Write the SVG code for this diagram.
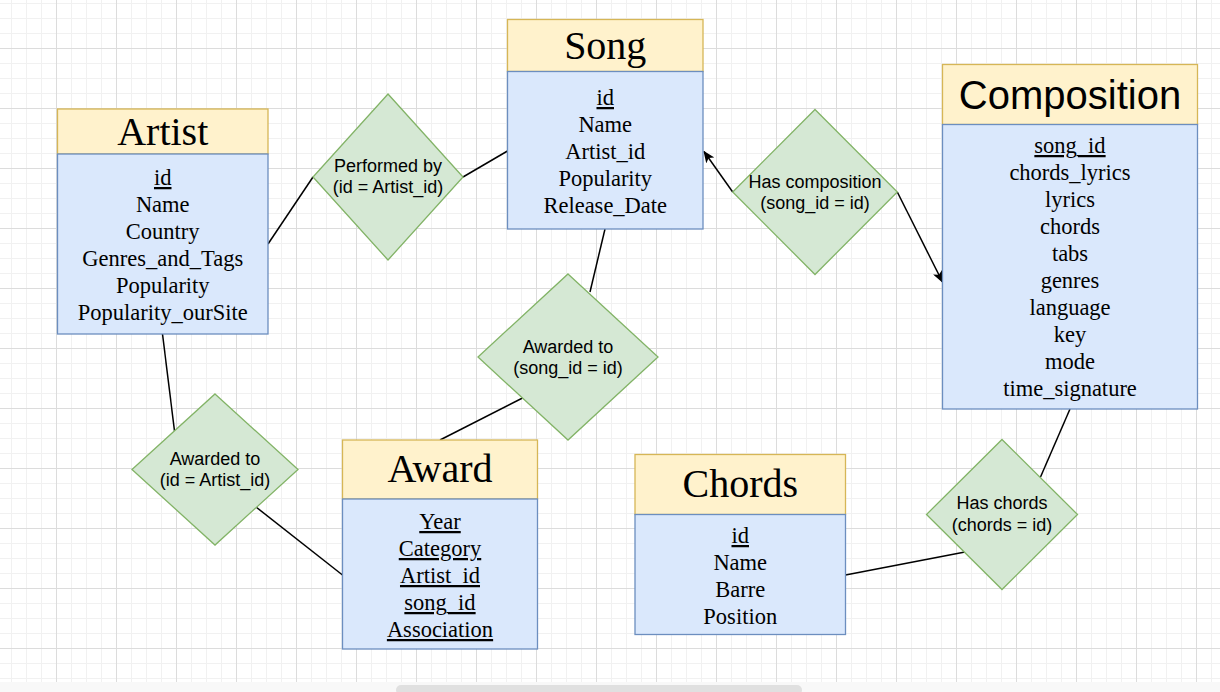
<svg xmlns="http://www.w3.org/2000/svg" width="1220" height="692" viewBox="0 0 1220 692">
<defs>
<pattern id="grid" x="56" y="48" width="60" height="60" patternUnits="userSpaceOnUse">
<rect width="60" height="60" fill="#ffffff"/>
<rect x="15" y="0" width="1" height="60" fill="#f1f1f1"/>
<rect x="30" y="0" width="1" height="60" fill="#f1f1f1"/>
<rect x="45" y="0" width="1" height="60" fill="#f1f1f1"/>
<rect x="0" y="15" width="60" height="1" fill="#f1f1f1"/>
<rect x="0" y="30" width="60" height="1" fill="#f1f1f1"/>
<rect x="0" y="45" width="60" height="1" fill="#f1f1f1"/>
<rect x="0" y="0" width="1" height="60" fill="#dcdcdc"/>
<rect x="0" y="0" width="60" height="1" fill="#dcdcdc"/>
</pattern>
<marker id="arrow" viewBox="0 0 12 10" refX="11" refY="5" markerWidth="12" markerHeight="10" markerUnits="userSpaceOnUse" orient="auto">
<path d="M0,0 L12,5 L0,10 L3,5 Z" fill="#000000"/>
</marker>
<style>
.hd{fill:#fff2cc;stroke:#d6b656;stroke-width:1.3}
.bd{fill:#dae8fc;stroke:#6c8ebf;stroke-width:1.3}
.dm{fill:#d5e8d4;stroke:#82b366;stroke-width:1.3}
.ts{font-family:"Liberation Serif","Times New Roman",serif;font-size:40px;fill:#000;text-anchor:middle}
.tsa{font-family:"Liberation Sans",Arial,sans-serif;font-size:40px;fill:#000;text-anchor:middle}
.at{font-family:"Liberation Serif","Times New Roman",serif;font-size:22.5px;fill:#000;text-anchor:middle}
.u{text-decoration:underline}
.rl{font-family:"Liberation Sans",Arial,sans-serif;font-size:18px;fill:#000;text-anchor:middle}
.ln{fill:none;stroke:#000;stroke-width:1.5}
</style>
</defs>
<rect x="0" y="0" width="1220" height="682" fill="url(#grid)"/>
<rect x="0" y="682" width="1220" height="10" fill="#f8f8f8"/>
<rect x="396" y="685" width="406" height="10" rx="5" fill="#e0e0e0"/>

<g id="connectors">
<line class="ln" x1="268" y1="244" x2="313" y2="177"/>
<line class="ln" x1="463" y1="177" x2="507.5" y2="151"/>
<line class="ln" x1="605" y1="229" x2="590" y2="292"/>
<line class="ln" x1="522.5" y1="398" x2="440" y2="440"/>
<line class="ln" x1="162.5" y1="334" x2="174.5" y2="431"/>
<line class="ln" x1="256" y1="507" x2="342.5" y2="575"/>
<line class="ln" x1="732.7" y1="192" x2="704" y2="151.5" marker-end="url(#arrow)"/>
<line class="ln" x1="897.3" y1="192" x2="942.5" y2="282" marker-end="url(#arrow)"/>
<line class="ln" x1="1070" y1="409" x2="1040.5" y2="477"/>
<line class="ln" x1="845.5" y1="575" x2="965" y2="552"/>
</g>

<g id="artist">
<rect class="hd" x="57.5" y="109" width="210.5" height="45"/>
<rect class="bd" x="57.5" y="154" width="210.5" height="180"/>
<text class="ts" x="162.75" y="144.5">Artist</text>
<text class="at u" x="162.75" y="185">id</text>
<text class="at" x="162.75" y="212">Name</text>
<text class="at" x="162.75" y="239">Country</text>
<text class="at" x="162.75" y="266">Genres_and_Tags</text>
<text class="at" x="162.75" y="293">Popularity</text>
<text class="at" x="162.75" y="320">Popularity_ourSite</text>
</g>

<g id="song">
<rect class="hd" x="507.5" y="19.5" width="195.5" height="52"/>
<rect class="bd" x="507.5" y="71.5" width="195.5" height="157.5"/>
<text class="ts" x="605.25" y="58.5">Song</text>
<text class="at u" x="605.25" y="105">id</text>
<text class="at" x="605.25" y="132">Name</text>
<text class="at" x="605.25" y="159">Artist_id</text>
<text class="at" x="605.25" y="186">Popularity</text>
<text class="at" x="605.25" y="213">Release_Date</text>
</g>

<g id="composition">
<rect class="hd" x="942.5" y="64.5" width="255" height="60"/>
<rect class="bd" x="942.5" y="124.5" width="255" height="284.5"/>
<text class="tsa" x="1070" y="108.5">Composition</text>
<text class="at u" x="1070" y="153">song_id</text>
<text class="at" x="1070" y="180">chords_lyrics</text>
<text class="at" x="1070" y="207">lyrics</text>
<text class="at" x="1070" y="234">chords</text>
<text class="at" x="1070" y="261">tabs</text>
<text class="at" x="1070" y="288">genres</text>
<text class="at" x="1070" y="315">language</text>
<text class="at" x="1070" y="342">key</text>
<text class="at" x="1070" y="369">mode</text>
<text class="at" x="1070" y="396">time_signature</text>
</g>

<g id="award">
<rect class="hd" x="342.5" y="440" width="195" height="59"/>
<rect class="bd" x="342.5" y="499" width="195" height="150"/>
<text class="ts" x="440" y="482">Award</text>
<text class="at u" x="440" y="529">Year</text>
<text class="at u" x="440" y="556">Category</text>
<text class="at u" x="440" y="583">Artist_id</text>
<text class="at u" x="440" y="610">song_id</text>
<text class="at u" x="440" y="637">Association</text>
</g>

<g id="chords">
<rect class="hd" x="635" y="454.5" width="210.5" height="60"/>
<rect class="bd" x="635" y="514.5" width="210.5" height="120"/>
<text class="ts" x="740.25" y="496.5">Chords</text>
<text class="at u" x="740.25" y="543">id</text>
<text class="at" x="740.25" y="570">Name</text>
<text class="at" x="740.25" y="597">Barre</text>
<text class="at" x="740.25" y="624">Position</text>
</g>

<g id="performed-by">
<polygon class="dm" points="388,94 463,177 388,260 313,177"/>
<text class="rl" x="388" y="172">Performed by</text>
<text class="rl" x="388" y="193">(id = Artist_id)</text>
</g>

<g id="has-composition">
<polygon class="dm" points="815,109.5 897.3,192 815,274.5 732.7,192"/>
<text class="rl" x="815" y="188">Has composition</text>
<text class="rl" x="815" y="209">(song_id = id)</text>
</g>

<g id="awarded-to-song">
<polygon class="dm" points="568,274 658,357 568,440 478,357"/>
<text class="rl" x="568" y="352.5">Awarded to</text>
<text class="rl" x="568" y="373.5">(song_id = id)</text>
</g>

<g id="awarded-to-artist">
<polygon class="dm" points="215,394 298,469.5 215,545 132,469.5"/>
<text class="rl" x="215" y="464.5">Awarded to</text>
<text class="rl" x="215" y="485.5">(id = Artist_id)</text>
</g>

<g id="has-chords">
<polygon class="dm" points="1002,439.5 1077.5,514.5 1002,589.5 926.5,514.5"/>
<text class="rl" x="1002" y="509">Has chords</text>
<text class="rl" x="1002" y="531">(chords = id)</text>
</g>
</svg>
